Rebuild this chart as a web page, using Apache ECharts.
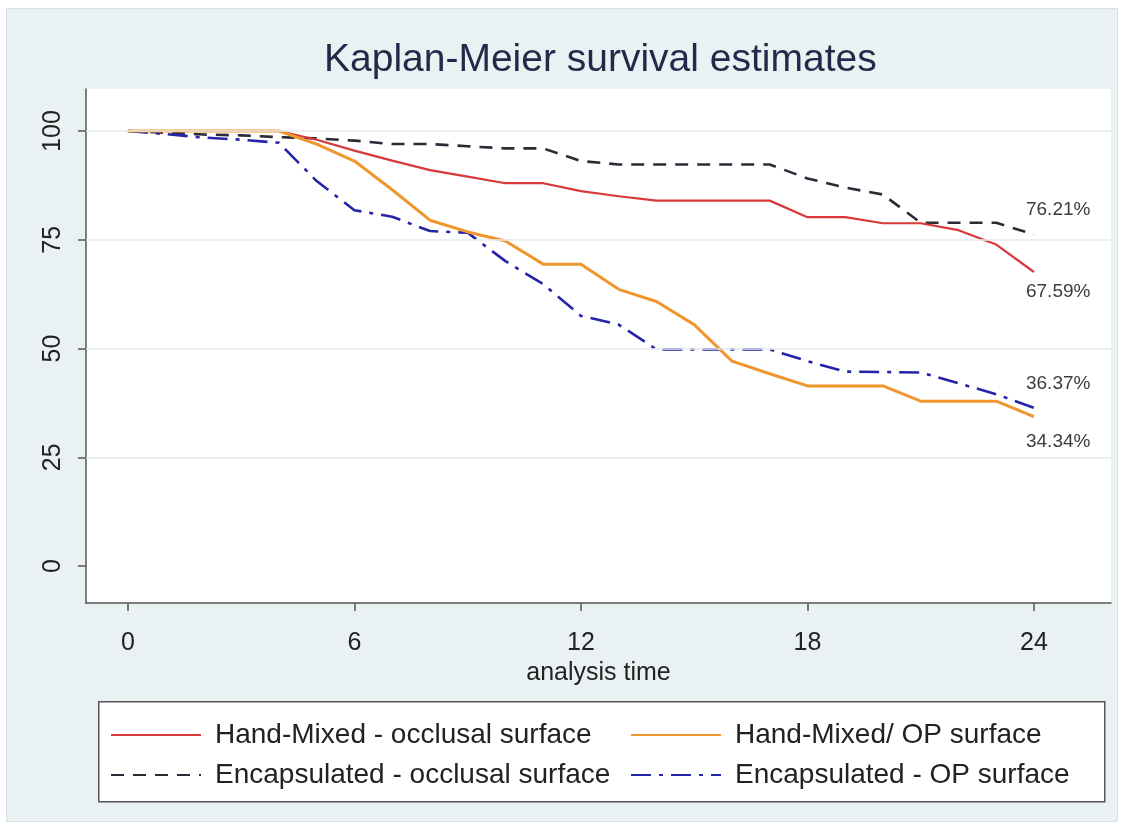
<!DOCTYPE html>
<html>
<head>
<meta charset="utf-8">
<script src="https://cdn.jsdelivr.net/npm/echarts@6/dist/echarts.min.js"></script>
<style>
html,body{margin:0;padding:0;background:#ffffff;width:1126px;height:829px;overflow:hidden;}
#frame{position:absolute;left:6px;top:8px;width:1110px;height:812px;background:#eaf1f3;border:1px solid #d9e0e3;}
#chart{width:1110px;height:812px;}
</style>
</head>
<body>
<div id="frame"><div id="chart"></div></div>
<script>
// ---- data ----
const months = [0,1,2,3,4,5,6,7,8,9,10,11,12,13,14,15,16,17,18,19,20,21,22,23,24];
const handMixedOcclusal = [100,100,100,100,100,98,95.5,93.2,91,89.5,88,88,86.2,85,84,84,84,84,80.2,80.2,78.8,78.8,77.2,73.9,67.59];
const handMixedOP = [100,100,100,100,100,97,93.1,86.5,79.5,76.8,74.7,69.4,69.4,63.6,60.8,55.5,47.1,44.2,41.4,41.4,41.4,37.9,37.9,37.9,34.34];
const encapsulatedOcclusal = [100,99.6,99.2,99,98.6,98.3,97.8,97,97,96.5,96,96,93.1,92.3,92.3,92.3,92.3,92.3,89.1,87,85.4,78.9,78.9,78.9,76.21];
const encapsulatedOP = [100,99.3,98.5,98,97.3,88.5,81.8,80.3,77,76.6,70.1,64.8,57.5,55.5,49.8,49.8,49.8,49.8,47.1,44.7,44.6,44.5,42,39.5,36.37];
const xTicks = [0,6,12,18,24];
const yTicks = [0,25,50,75,100];
const gridValues = [25,50,75,100];
const seriesNames = ['Hand-Mixed - occlusal surface','Hand-Mixed/ OP surface','Encapsulated - occlusal surface','Encapsulated - OP surface'];

const pairs = arr => months.map((m,i)=>[m, arr[i]]);
const font = 'Liberation Sans, Arial, sans-serif';

function mkSeries(name, arr, color, type, width, dy, z){
  return {
    name: name, type: 'line', data: pairs(arr), symbol: 'none', z: z,
    lineStyle: {color: color, width: width, type: type},
    itemStyle: {color: color},
    endLabel: {
      show: true, distance: 0, offset: [-8, dy],
      fontFamily: font, fontSize: 19, color: '#3c3c3c',
      formatter: p => p.value[1].toFixed(2) + '%'
    },
    emphasis: {disabled: true}
  };
}

const legendCommon = {
  orient: 'vertical', top: 707,
  itemWidth: 90, itemHeight: 14, itemGap: 12,
  itemStyle: {opacity: 0},
  textStyle: {fontFamily: font, fontSize: 28, color: '#222', padding: [0,0,0,9]},
  selectedMode: false
};

const chart = echarts.init(document.getElementById('chart'));
chart.setOption({
  animation: false,
  backgroundColor: 'transparent',
  title: {
    text: 'Kaplan-Meier survival estimates', left: 312, top: 27,
    textStyle: {fontFamily: font, fontSize: 39, fontWeight: 'normal', color: '#1f2b48'}
  },
  grid: {left: 79, top: 80, right: 6, bottom: 218, show: true, backgroundColor: '#ffffff', borderWidth: 0},
  xAxis: {
    type: 'value', min: -1.11, max: 26.04,
    name: 'analysis time', nameLocation: 'middle', nameGap: 57,
    nameTextStyle: {fontFamily: font, fontSize: 25, color: '#222'},
    axisLine: {show: true, onZero: false, lineStyle: {color: '#555', width: 1.5}},
    axisTick: {show: true, customValues: xTicks, length: 8, lineStyle: {color: '#555', width: 1.5}},
    axisLabel: {customValues: xTicks, margin: 28, fontFamily: font, fontSize: 25, color: '#222'},
    splitLine: {show: false}
  },
  yAxis: {
    type: 'value', min: -8.5, max: 109.66,
    axisLine: {show: true, onZero: false, lineStyle: {color: '#555', width: 1.5}},
    axisTick: {show: true, customValues: yTicks, length: 8, lineStyle: {color: '#555', width: 1.5}},
    axisLabel: {customValues: yTicks, rotate: 90, margin: 20, fontFamily: font, fontSize: 25, color: '#222'},
    splitLine: {show: false}
  },
  legend: [
    Object.assign({data: [seriesNames[0], seriesNames[2]], left: 98}, legendCommon),
    Object.assign({data: [seriesNames[1], seriesNames[3]], left: 618}, legendCommon)
  ],
  graphic: [{
    type: 'rect', left: 91, top: 692, z: -1,
    shape: {width: 1006, height: 100},
    style: {fill: '#ffffff', stroke: '#555', lineWidth: 1.5}
  }],
  series: [
    {
      name: 'grid', type: 'line', data: [], silent: true, z: 1,
      markLine: {
        silent: true, symbol: 'none', label: {show: false},
        lineStyle: {color: '#e4eaeb', type: 'solid', width: 1.5},
        emphasis: {disabled: true},
        data: gridValues.map(v => ({yAxis: v}))
      }
    },
    mkSeries(seriesNames[2], encapsulatedOcclusal, '#2b2b38', [13, 9], 2.6, -25, 3),
    mkSeries(seriesNames[0], handMixedOcclusal, '#d8383a', 'solid', 2.2, 20, 4),
    mkSeries(seriesNames[3], encapsulatedOP, '#2424a8', [20, 8, 4, 8], 2.6, -24, 3),
    mkSeries(seriesNames[1], handMixedOP, '#f0962f', 'solid', 3, 25, 4)
  ]
});
</script>
</body>
</html>
